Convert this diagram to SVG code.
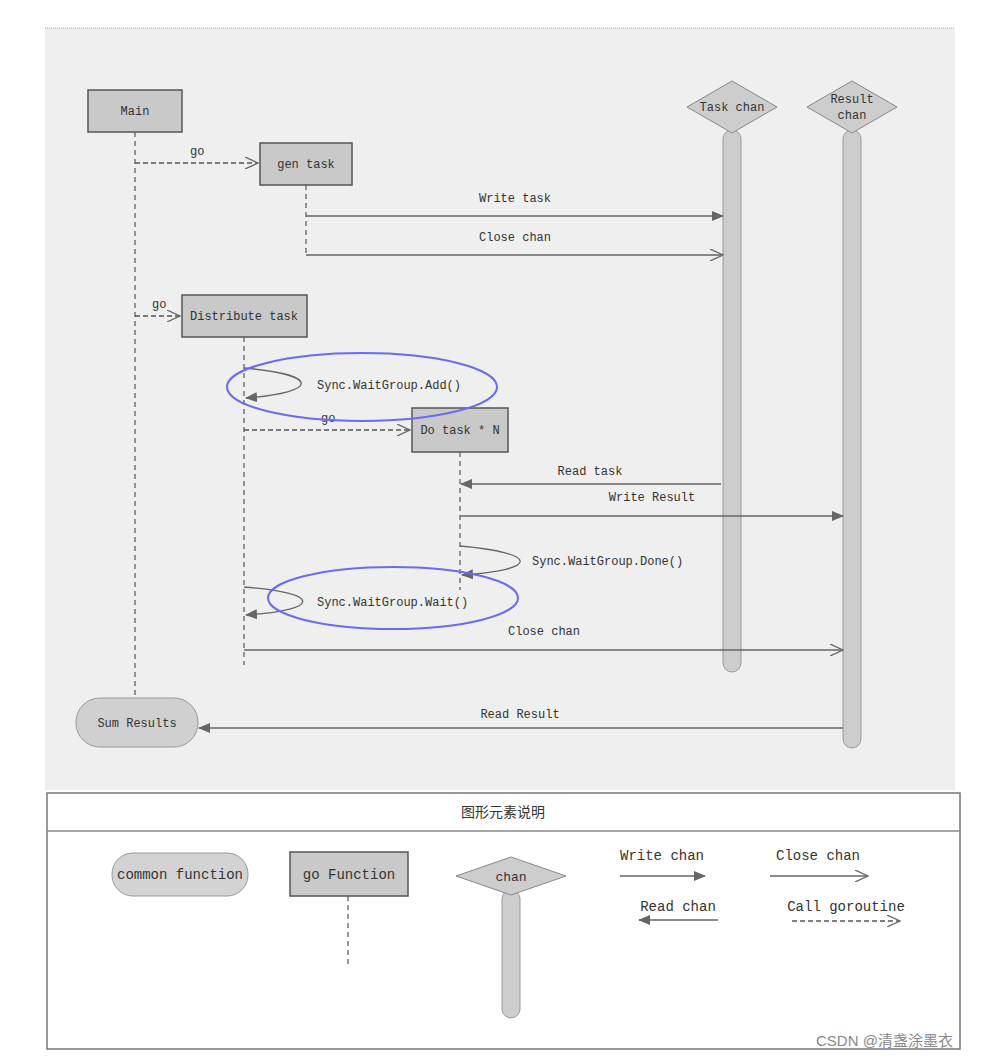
<svg xmlns="http://www.w3.org/2000/svg" width="1003" height="1057" viewBox="0 0 1003 1057">
<style>
text{font-family:"Liberation Mono","Noto Sans CJK SC",monospace;font-size:12px;fill:#333}
.c{text-anchor:middle}
.box{fill:#c9c9c9;stroke:#555;stroke-width:1.5}
.dia{fill:#cdcdcd;stroke:#888;stroke-width:1}
.bar{fill:#cdcdcd;stroke:#999;stroke-width:1}
.life{stroke:#555;stroke-width:1.2;stroke-dasharray:5,4;fill:none}
.ln{stroke:#666;stroke-width:1.3;fill:none}
.go{stroke:#555;stroke-width:1.3;stroke-dasharray:5,3;fill:none}
.ring{fill:none;stroke:#6b6bf0;stroke-width:2}
</style>
<defs>
<marker id="fill" markerWidth="12" markerHeight="10" refX="11" refY="5" orient="auto" markerUnits="userSpaceOnUse"><path d="M0,0L12,5L0,10Z" fill="#666"/></marker>
<marker id="open" markerWidth="14" markerHeight="12" refX="13" refY="6" orient="auto" markerUnits="userSpaceOnUse"><path d="M0,0L13,6L0,12" fill="none" stroke="#666" stroke-width="1.3"/></marker>
</defs>
<rect x="45" y="28" width="910" height="762" fill="#efefef"/>
<line x1="45" y1="28" x2="955" y2="28" stroke="#aaa" stroke-dasharray="1,1"/>

<g id="main"><rect class="box" x="88" y="90" width="94" height="42"/><text class="c" x="135" y="115">Main</text><line class="life" x1="135" y1="132" x2="135" y2="698"/></g>
<g id="gentask"><rect class="box" x="260" y="143" width="92" height="42"/><text class="c" x="306" y="168">gen task</text><line class="life" x1="306" y1="185" x2="306" y2="255"/></g>
<g id="taskchan"><rect class="bar" x="723" y="130" width="18" height="542" rx="9"/><path class="dia" d="M732,81L777,107L732,133L687,107Z"/><text class="c" x="732" y="111">Task chan</text></g>
<g id="resultchan"><rect class="bar" x="843" y="130" width="18" height="618" rx="9"/><path class="dia" d="M852,81L897,107L852,133L807,107Z"/><text class="c" x="852" y="103">Result</text><text class="c" x="852" y="119">chan</text></g>
<g id="distribute"><rect class="box" x="182" y="295" width="125" height="42"/><text class="c" x="244" y="320">Distribute task</text><line class="life" x1="244" y1="337" x2="244" y2="665"/></g>
<g id="dotask"><rect class="box" x="412" y="408" width="96" height="44"/><text class="c" x="460" y="434">Do task * N</text><line class="life" x1="460" y1="452" x2="460" y2="590"/></g>
<g id="sum"><rect x="76" y="698" width="122" height="49" rx="24" fill="#d0d0d0" stroke="#999"/><text class="c" x="137" y="727">Sum Results</text></g>

<g id="connectors">
<path class="go" d="M135,163H258" marker-end="url(#open)"/><text x="190" y="155">go</text>
<path class="ln" d="M306,216H723" marker-end="url(#fill)"/><text class="c" x="515" y="202">Write task</text>
<path class="ln" d="M306,255H723" marker-end="url(#open)"/><text class="c" x="515" y="241">Close chan</text>
<path class="go" d="M135,316H180" marker-end="url(#open)"/><text x="152" y="308">go</text>
<path class="ln" d="M244,368C320,375 320,392 246,398" marker-end="url(#fill)"/><text x="317" y="389">Sync.WaitGroup.Add()</text>
<path class="go" d="M244,430H410" marker-end="url(#open)"/><text x="321" y="422">go</text>
<path class="ln" d="M721,484H461" marker-end="url(#fill)"/><text class="c" x="590" y="475">Read task</text>
<path class="ln" d="M460,516H843" marker-end="url(#fill)"/><text class="c" x="652" y="501">Write Result</text>
<path class="ln" d="M460,546C540,553 540,570 462,575" marker-end="url(#fill)"/><text x="532" y="565">Sync.WaitGroup.Done()</text>
<path class="ln" d="M244,587C322,593 322,610 246,615" marker-end="url(#fill)"/><text x="317" y="606">Sync.WaitGroup.Wait()</text>
<path class="ln" d="M244,650H843" marker-end="url(#open)"/><text class="c" x="544" y="635">Close chan</text>
<path class="ln" d="M843,728H199" marker-end="url(#fill)"/><text class="c" x="520" y="718">Read Result</text>
</g>
<ellipse class="ring" cx="362" cy="387" rx="135" ry="34"/>
<ellipse class="ring" cx="393" cy="598" rx="125" ry="31"/>

<g id="legend">
<rect x="47" y="793" width="913" height="256" fill="#fff" stroke="#777" stroke-width="1.5"/>
<line x1="47" y1="831" x2="960" y2="831" stroke="#888" stroke-width="1.5"/>
<text class="c" x="503" y="817" style="font-size:14px">图形元素说明</text>
<rect x="112" y="853" width="136" height="43" rx="21" fill="#d3d3d3" stroke="#999"/><text class="c" x="180" y="879" style="font-size:14px">common function</text>
<rect class="box" x="290" y="852" width="118" height="44"/><text class="c" x="349" y="879" style="font-size:14px">go Function</text>
<line class="life" x1="348" y1="896" x2="348" y2="968"/>
<rect class="bar" x="502" y="890" width="18" height="128" rx="9"/><path class="dia" d="M511,857L566,876L511,895L456,876Z"/><text class="c" x="511" y="881" style="font-size:13px">chan</text>
<text class="c" x="662" y="860" style="font-size:14px">Write chan</text><path class="ln" d="M620,876H705" stroke-width="2.5" marker-end="url(#fill)"/>
<text class="c" x="818" y="860" style="font-size:14px">Close chan</text><path class="ln" d="M770,876H868" marker-end="url(#open)"/>
<text class="c" x="678" y="911" style="font-size:14px">Read chan</text><path class="ln" d="M718,920H639" stroke-width="2.5" marker-end="url(#fill)"/>
<text class="c" x="846" y="911" style="font-size:14px">Call goroutine</text><path class="go" d="M792,921H900" marker-end="url(#open)"/>
</g>
<text x="816" y="1046" style="font-family:'Liberation Sans','Noto Sans CJK SC',sans-serif;font-size:15px;fill:#888">CSDN @清盏涂墨衣</text>
</svg>
